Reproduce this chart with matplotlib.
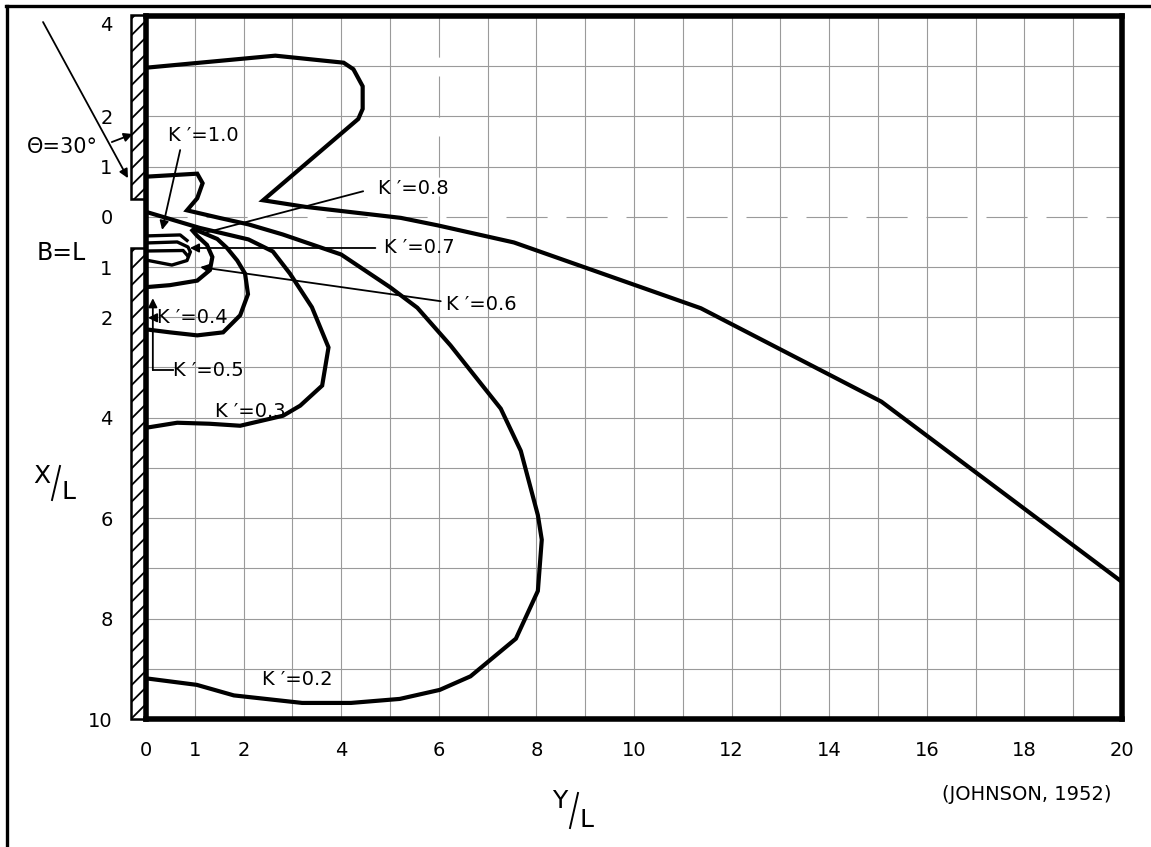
import matplotlib
matplotlib.use("Agg")
import matplotlib.pyplot as plt
from matplotlib.patches import Rectangle
from matplotlib.lines import Line2D

plt.rcParams["font.family"] = ["DejaVu Sans"]
plt.rcParams["hatch.linewidth"] = 1.3

# K' contours: yl = Y/L (across), xl = X/L (along breakwater, negative = upper side)
k02_yl = [0, 1.05, 1.16, 1.05, 0.84, 1.5, 2.1, 2.8, 4.0, 5.0, 5.56, 6.24, 7.27, 7.68,
          8.03, 8.11, 8.03, 7.58, 6.65, 6.02, 5.2, 4.2, 3.2, 1.8, 1.04, 0]
k02_xl = [-0.80, -0.86, -0.67, -0.37, -0.13, 0.02, 0.15, 0.35, 0.75, 1.4, 1.81, 2.56, 3.82, 4.66,
          5.94, 6.43, 7.45, 8.4, 9.15, 9.42, 9.6, 9.68, 9.68, 9.53, 9.32, 9.19]

k03_yl = [0, 1.1, 2.1, 2.6, 2.95, 3.4, 3.74, 3.61, 3.16, 2.81, 1.93, 1.3, 0.64, 0]
k03_xl = [-0.1, 0.22, 0.45, 0.69, 1.13, 1.8, 2.6, 3.36, 3.76, 3.96, 4.16, 4.12, 4.1, 4.2]

k04_yl = [1.0, 1.46, 1.66, 1.87, 2.03, 2.09, 1.93, 1.58, 1.05, 0.49, 0]
k04_xl = [0.25, 0.44, 0.62, 0.87, 1.13, 1.54, 1.96, 2.3, 2.36, 2.3, 2.24]

k05_yl = [0.95, 1.05, 1.25, 1.36, 1.31, 1.05, 0.49, 0]
k05_xl = [0.27, 0.38, 0.56, 0.8, 1.06, 1.27, 1.36, 1.4]

outer_yl = [0, 2.65, 4.05, 4.25, 4.44, 4.44, 4.35, 2.4, 3.26, 5.22, 5.98, 7.54, 11.37, 15.07, 20]
outer_xl = [-2.97, -3.21, -3.07, -2.94, -2.6, -2.15, -1.95, -0.33, -0.2, 0.02, 0.17, 0.51, 1.82, 3.68, 7.27]

# small nested contours just inside the gap
arc_yl = [[0, 0.7, 0.84], [0, 0.64, 0.86, 0.9], [0, 0.76, 0.84], [0, 0.53, 0.84, 0.9]]
arc_xl = [[0.38, 0.36, 0.47], [0.52, 0.5, 0.6, 0.68], [0.68, 0.67, 0.76], [0.86, 0.96, 0.87, 0.72]]

# contour labels: text, label anchor (Y/L, X/L)
labels = ["K \u2032=1.0", "K \u2032=0.8", "K \u2032=0.7", "K \u2032=0.6",
          "K \u2032=0.5", "K \u2032=0.4", "K \u2032=0.3", "K \u2032=0.2"]
label_yl = [0.45, 4.76, 4.87, 6.14, 0.55, 0.23, 1.41, 2.38]
label_xl = [-1.63, -0.56, 0.62, 1.74, 3.05, 2.01, 3.87, 9.22]

# leader arrows (from, to)
leader_from = [(0.7, -1.33), (4.45, -0.51), (4.7, 0.62), (6.04, 1.68), (0.14, 3.05), (0.2, 2.01)]
leader_to = [(0.33, 0.26), (1.2, 0.32), (0.9, 0.62), (1.11, 1.0), (0.14, 1.62), (0.04, 2.01)]
leader_head = [True, False, True, True, True, True]

# breakwater arms (X/L extents), gap B = L between them
wall_upper = (-4.02, -0.35)
wall_lower = (0.62, 10.0)
wall_width = 0.31

# incident wave direction
wave_from = (-2.11, -3.88)
wave_to = (-0.37, -0.77)
angle_from = (-0.70, -1.49)
angle_to = (-0.27, -1.65)

xticks = [0, 1, 2, 4, 6, 8, 10, 12, 14, 16, 18, 20]
yticks = [-4, -2, -1, 0, 1, 2, 4, 6, 8, 10]
ytick_labels = ["4", "2", "1", "0", "1", "2", "4", "6", "8", "10"]

W, H = 1151, 847
fig = plt.figure(figsize=(W / 100, H / 100), dpi=100)
ax = fig.add_axes([146 / W, 1 - 719 / H, (1122 - 146) / W, (719 - 16) / H])
ax.set_xlim(0, 20)
ax.set_ylim(10, -4)

grid_kw = dict(color="#9a9a9a", lw=0.8, zorder=1)
for v in range(1, 20):
    if v == 6:
        ax.plot([v, v], [-4, 0], ls=(0, (37, 17)), **grid_kw)
        ax.plot([v, v], [0, 10], **grid_kw)
    else:
        ax.axvline(v, **grid_kw)
for h in range(-3, 10):
    if h == 0:
        ax.axhline(h, ls=(0, (37, 17)), **grid_kw)
    else:
        ax.axhline(h, **grid_kw)

line_kw = dict(color="black", lw=3.0, solid_joinstyle="miter", zorder=3)
for yl, xl in [(k02_yl, k02_xl), (k03_yl, k03_xl), (k04_yl, k04_xl),
               (k05_yl, k05_xl), (outer_yl, outer_xl)]:
    ax.plot(yl, xl, **line_kw)
for yl, xl in zip(arc_yl, arc_xl):
    ax.plot(yl, xl, color="black", lw=2.4, zorder=3)

for txt, yl, xl in zip(labels, label_yl, label_xl):
    ax.text(yl, xl, txt, fontsize=14, ha="left", va="center", zorder=4)

for (y0, x0), (y1, x1), head in zip(leader_from, leader_to, leader_head):
    style = "-|>" if head else "-"
    ax.annotate("", xy=(y1, x1), xytext=(y0, x0), annotation_clip=False,
                arrowprops=dict(arrowstyle=style, color="black", lw=1.3,
                                mutation_scale=13, shrinkA=0, shrinkB=0))
# elbow of the K'=0.5 leader
ax.plot([0.55, 0.14], [3.05, 3.05], color="black", lw=1.3, zorder=3)

for lo, hi in [wall_upper, wall_lower]:
    ax.add_patch(Rectangle((-wall_width, lo), wall_width, hi - lo, facecolor="white",
                           edgecolor="black", hatch="//", lw=1.8, clip_on=False, zorder=5))

for p0, p1 in [(wave_from, wave_to), (angle_from, angle_to)]:
    ax.annotate("", xy=p1, xytext=p0, annotation_clip=False,
                arrowprops=dict(arrowstyle="-|>", color="black", lw=1.3,
                                mutation_scale=13, shrinkA=0, shrinkB=0))

for s in ax.spines.values():
    s.set_linewidth(4)
    s.set_zorder(6)

ax.set_xticks(xticks)
ax.set_xticklabels([str(t) for t in xticks])
ax.set_yticks(yticks)
ax.set_yticklabels(ytick_labels)
ax.tick_params(axis="x", length=0, pad=16, labelsize=14)
ax.tick_params(axis="y", length=0, pad=24, labelsize=14)
ax.get_yticklabels()[0].set_va("top")


def px(x, y):
    return x / W, 1 - y / H


fig.text(*px(27, 147), "\u0398=30\u00b0", fontsize=15, ha="left", va="center")
fig.text(*px(37, 253), "B=L", fontsize=17, ha="left", va="center")
fig.text(*px(1112, 794), "(JOHNSON, 1952)", fontsize=14, ha="right", va="center")

# X/L and Y/L axis titles: letter, slash stroke, lowered L
fig.text(*px(42, 476), "X", fontsize=18, ha="center", va="center")
fig.text(*px(68, 492), "L", fontsize=18, ha="center", va="center")
fig.add_artist(Line2D([px(52, 500)[0], px(60, 466)[0]], [px(52, 500)[1], px(60, 466)[1]],
                      transform=fig.transFigure, color="black", lw=1.4))
fig.text(*px(560, 801), "Y", fontsize=18, ha="center", va="center")
fig.text(*px(586, 820), "L", fontsize=18, ha="center", va="center")
fig.add_artist(Line2D([px(570, 828)[0], px(578, 793)[0]], [px(570, 828)[1], px(578, 793)[1]],
                      transform=fig.transFigure, color="black", lw=1.4))

# drawing border on top and left edges
fig.add_artist(Line2D([6 / W, 1], [1 - 6 / H, 1 - 6 / H], transform=fig.transFigure,
                      color="black", lw=2.4))
fig.add_artist(Line2D([7 / W, 7 / W], [0, 1 - 6 / H], transform=fig.transFigure,
                      color="black", lw=2.4))

fig.savefig("out.png", dpi=100)
